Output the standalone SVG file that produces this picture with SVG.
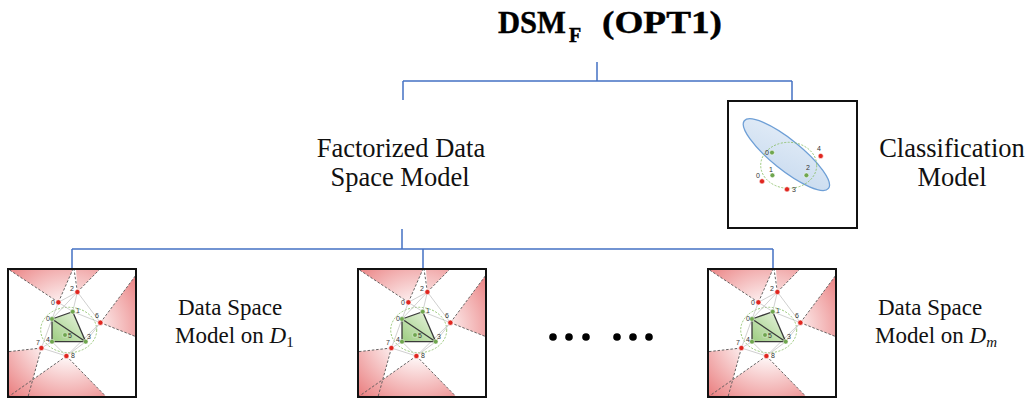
<svg xmlns="http://www.w3.org/2000/svg" xmlns:xlink="http://www.w3.org/1999/xlink" width="1033" height="398" viewBox="0 0 1033 398">
<style>
.conn{fill:none;stroke:#4472c4;stroke-width:1.5}
.lbl{font-family:"Liberation Serif",serif;fill:#111}
.big{font-size:26.5px}
.small{font-size:23px}
.ttl{font-family:"Liberation Serif",serif;font-weight:bold;fill:#000;stroke:#000;stroke-width:0.4}
.frame{fill:none;stroke:#111;stroke-width:2}
.wedge{fill:url(#pink);stroke:none}
.dash{fill:none;stroke:#555;stroke-width:0.9;stroke-dasharray:2.5,1.8}
.thin{fill:none;stroke:#c4c4c4;stroke-width:0.8}
.dark{fill:none;stroke:#3a3a3a;stroke-width:1.3}
.red{fill:#e0261f;stroke:#fff;stroke-width:0.6}
.grn{fill:#6fa64e;stroke:#fff;stroke-width:0.5}
.pt{font-family:"Liberation Sans",sans-serif;font-size:7px;fill:#333}
.dot{fill:#000}
</style>
<defs>
<radialGradient id="pink" gradientUnits="userSpaceOnUse" cx="60" cy="62" r="95">
<stop offset="0.3" stop-color="#fdf2f2"/>
<stop offset="0.95" stop-color="#e9797a"/>
</radialGradient>
<linearGradient id="green" x1="1" y1="0" x2="0" y2="1">
<stop offset="0" stop-color="#eef7e6"/>
<stop offset="1" stop-color="#9ccc80"/>
</linearGradient>
<linearGradient id="blue" x1="0" y1="0" x2="1" y2="1">
<stop offset="0" stop-color="#e2ecf7"/>
<stop offset="1" stop-color="#c9dbef"/>
</linearGradient>
<g id="dsm">
<rect x="0" y="0" width="128" height="128" fill="#fff"/>
<polygon class="wedge" points="50.4,33.3 0,0 65,0"/>
<polygon class="wedge" points="69.4,23 68,0 92,0"/>
<polygon class="wedge" points="92.4,53.7 128,6 128,67.7"/>
<polygon class="wedge" points="33.4,79 0,82.7 0,128 20,128"/>
<polygon class="wedge" points="58.4,87 0,128 98.4,128"/>
<path class="dash" d="M50.4,33.3 L0,0 M50.4,33.3 L65,0 M69.4,23 L66,0 M69.4,23 L92,0 M92.4,53.7 L128,6 M92.4,53.7 L128,67.7 M33.4,79 L0,82.7 M33.4,79 L20,128 M58.4,87 L0,128 M58.4,87 L98.4,128"/>
<ellipse cx="60.7" cy="61" rx="28" ry="22.7" fill="none" stroke="#8cc06a" stroke-width="0.9" stroke-dasharray="2,1.5"/>
<path class="thin" d="M69.4,23 L50.4,33.3 M69.4,23 L64.7,42.7 M69.4,23 L92.4,53.7 M69.4,23 L44,50 M50.4,33.3 L44,50 M50.4,33.3 L64.7,42.7 M64.7,42.7 L92.4,53.7 M92.4,53.7 L77.7,72.7 M92.4,53.7 L58.4,87 M33.4,79 L44,50 M33.4,79 L44,72.7 M33.4,79 L58.4,87 M58.4,87 L44,72.7 M58.4,87 L77.7,72.7"/>
<polygon points="44,50 64.7,42.7 77.7,72.7 44,72.7" fill="url(#green)"/>
<path class="dark" d="M44,50 L64.7,42.7 L77.7,72.7 L44,72.7 Z M44,50 L77.7,72.7"/>
<circle class="red" cx="69.4" cy="23" r="2.6"/>
<circle class="red" cx="50.4" cy="33.3" r="2.6"/>
<circle class="red" cx="92.4" cy="53.7" r="2.6"/>
<circle class="red" cx="33.4" cy="79" r="2.6"/>
<circle class="red" cx="58.4" cy="87" r="2.6"/>
<circle class="grn" cx="64.7" cy="42.7" r="2.4"/>
<circle class="grn" cx="44" cy="50" r="2.4"/>
<circle class="grn" cx="57" cy="66" r="2.4"/>
<circle class="grn" cx="44" cy="72.7" r="2.4"/>
<circle class="grn" cx="77.7" cy="72.7" r="2.4"/>
<text class="pt" x="62" y="22">2</text>
<text class="pt" x="43" y="36">0</text>
<text class="pt" x="68" y="44">1</text>
<text class="pt" x="38" y="52">0</text>
<text class="pt" x="87" y="49">6</text>
<text class="pt" x="60" y="69">5</text>
<text class="pt" x="38" y="73">4</text>
<text class="pt" x="79" y="70">3</text>
<text class="pt" x="28" y="76">7</text>
<text class="pt" x="63" y="89">8</text>
<rect class="frame" x="0" y="0" width="128" height="128"/>
</g>
</defs>
<rect width="1033" height="398" fill="#fff"/>

<g id="connectors">
<path class="conn" d="M597,62 V81 M403,81 H792 M403,81 V100 M792,81 V101"/>
<path class="conn" d="M402,229 V249 M72,249 H773 M72,249 V269 M423,249 V269 M773,249 V269"/>
</g>

<g id="title">
<text class="ttl" x="498" y="33" font-size="31" textLength="68" lengthAdjust="spacingAndGlyphs">DSM</text>
<text class="ttl" x="569" y="42" font-size="20">F</text>
<text class="ttl" x="602" y="33" font-size="31" textLength="120" lengthAdjust="spacingAndGlyphs">(OPT1)</text>
</g>

<g id="factorized">
<text class="lbl big" x="401" y="157" text-anchor="middle">Factorized Data</text>
<text class="lbl big" x="400" y="186" text-anchor="middle">Space Model</text>
</g>

<g id="classification">
<g transform="translate(728,101)">
<rect x="0" y="0" width="129" height="127" fill="#fff"/>
<ellipse cx="58.4" cy="53.6" rx="54" ry="15" fill="url(#blue)" stroke="#6e9fd6" stroke-width="1.3" transform="rotate(38.8 58.4 53.6)"/>
<ellipse cx="60.7" cy="64.3" rx="28" ry="23" fill="none" stroke="#8cc06a" stroke-width="0.9" stroke-dasharray="2,1.5"/>
<circle class="grn" cx="44" cy="51.6" r="2.4"/>
<circle class="grn" cx="44.4" cy="74.3" r="2.4"/>
<circle class="grn" cx="78.4" cy="74.3" r="2.4"/>
<circle class="red" cx="92.7" cy="55" r="2.6"/>
<circle class="red" cx="34" cy="80.3" r="2.6"/>
<circle class="red" cx="59" cy="88.3" r="2.6"/>
<text class="pt" x="37" y="54">0</text>
<text class="pt" x="41" y="71">1</text>
<text class="pt" x="78" y="69">2</text>
<text class="pt" x="89" y="50">4</text>
<text class="pt" x="28" y="77">0</text>
<text class="pt" x="64" y="91">3</text>
<rect class="frame" x="0" y="0" width="129" height="127"/>
</g>
<text class="lbl big" x="952" y="157" text-anchor="middle">Classification</text>
<text class="lbl big" x="952" y="186" text-anchor="middle">Model</text>
</g>

<g id="dsm1">
<use xlink:href="#dsm" x="8" y="269"/>
<text class="lbl small" x="178" y="315">Data Space</text>
<text class="lbl small" x="175" y="343">Model on <tspan font-style="italic">D</tspan><tspan font-size="15" dy="4">1</tspan></text>
</g>

<g id="dsm2">
<use xlink:href="#dsm" x="358" y="269"/>
</g>

<g id="ellipsis">
<circle class="dot" cx="553" cy="337" r="3.8"/>
<circle class="dot" cx="569" cy="337" r="3.8"/>
<circle class="dot" cx="586" cy="337" r="3.8"/>
<circle class="dot" cx="617" cy="337" r="3.8"/>
<circle class="dot" cx="633" cy="337" r="3.8"/>
<circle class="dot" cx="649" cy="337" r="3.8"/>
</g>

<g id="dsmm">
<use xlink:href="#dsm" x="708" y="269"/>
<text class="lbl small" x="878" y="315">Data Space</text>
<text class="lbl small" x="875" y="343">Model on <tspan font-style="italic">D</tspan><tspan font-size="15" font-style="italic" dy="4">m</tspan></text>
</g>
</svg>
